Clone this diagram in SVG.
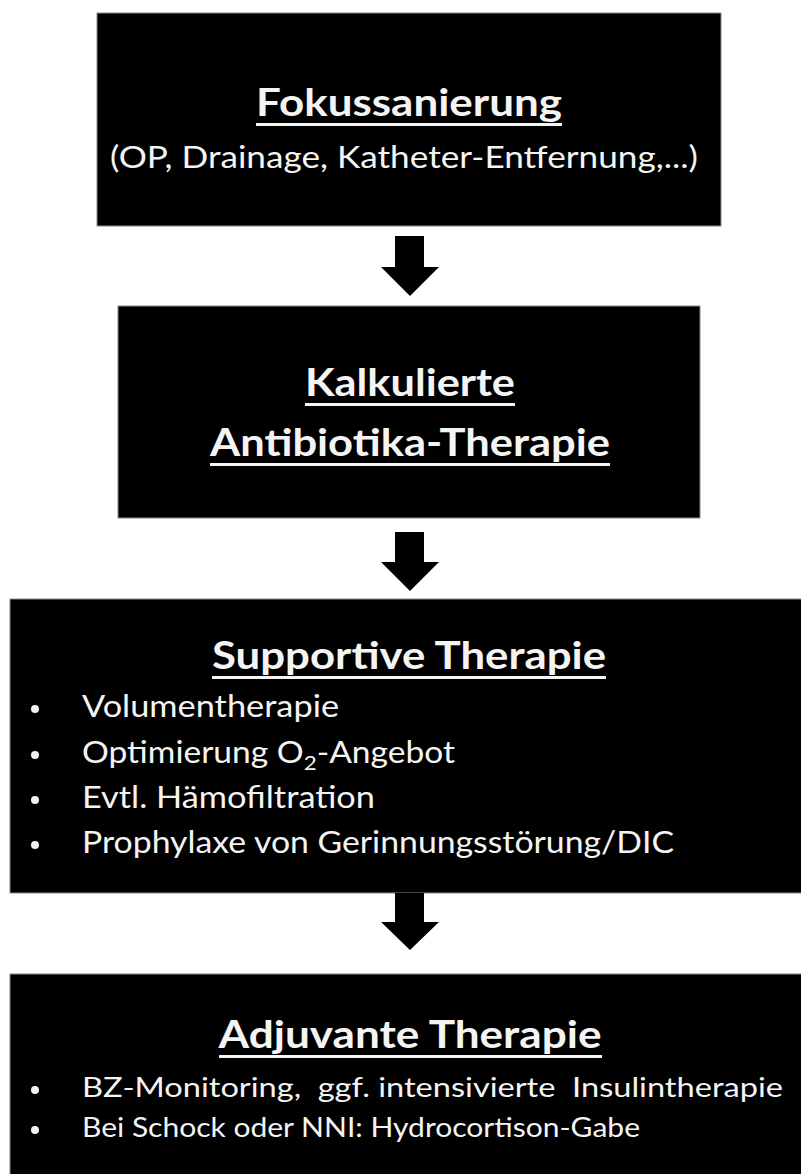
<svg xmlns="http://www.w3.org/2000/svg" width="801" height="1174" viewBox="0 0 801 1174">
<style>
.box{fill:#000;stroke:#8a8a8a;stroke-width:1}
.t{font-family:Lato,"Open Sans","Liberation Sans",sans-serif;fill:#f4f4f4}
.h{font-weight:bold;font-size:38px;text-anchor:middle}
.s{font-size:30px}
.b{font-size:30px}
.b2{font-size:26px}
.ul{fill:#f4f4f4}
.arr{fill:#000}
</style>
<rect width="801" height="1174" fill="#fff"/>
<g id="node-fokus">
<rect class="box" x="97" y="13" width="624" height="213"/>
<text class="t h" x="409" y="116" textLength="306" lengthAdjust="spacingAndGlyphs">Fokussanierung</text>
<rect class="ul" x="256" y="123" width="306" height="3"/>
<text class="t s" x="110" y="168" textLength="588" lengthAdjust="spacingAndGlyphs">(OP, Drainage, Katheter-Entfernung,...)</text>
</g>
<g id="node-antibiotika">
<rect class="box" x="118" y="306" width="582" height="212"/>
<text class="t h" x="410" y="396" textLength="210" lengthAdjust="spacingAndGlyphs">Kalkulierte</text>
<rect class="ul" x="305" y="403" width="210" height="3"/>
<text class="t h" x="410" y="456" textLength="400" lengthAdjust="spacingAndGlyphs">Antibiotika-Therapie</text>
<rect class="ul" x="210" y="463" width="400" height="3"/>
</g>
<g id="node-supportive">
<rect class="box" x="10" y="599" width="800" height="294"/>
<text class="t h" x="409" y="669" textLength="394" lengthAdjust="spacingAndGlyphs">Supportive Therapie</text>
<rect class="ul" x="212" y="676" width="394" height="3"/>
<g class="t b">
<circle cx="35" cy="709" r="4" fill="#f4f4f4"/>
<text x="82" y="717" textLength="257" lengthAdjust="spacingAndGlyphs">Volumentherapie</text>
<circle cx="35" cy="755" r="4" fill="#f4f4f4"/>
<text x="82" y="763" textLength="373" lengthAdjust="spacingAndGlyphs">Optimierung O<tspan font-size="20" dy="7">2</tspan><tspan dy="-7">-Angebot</tspan></text>
<circle cx="35" cy="800" r="4" fill="#f4f4f4"/>
<text x="82" y="808" textLength="293" lengthAdjust="spacingAndGlyphs">Evtl. Hämofiltration</text>
<circle cx="35" cy="845" r="4" fill="#f4f4f4"/>
<text x="82" y="853" textLength="592" lengthAdjust="spacingAndGlyphs">Prophylaxe von Gerinnungsstörung/DIC</text>
</g>
</g>
<g id="node-adjuvant">
<rect class="box" x="10" y="974" width="800" height="210"/>
<text class="t h" x="410" y="1048" textLength="383" lengthAdjust="spacingAndGlyphs">Adjuvante Therapie</text>
<rect class="ul" x="219" y="1055" width="383" height="3"/>
<g class="t b2">
<circle cx="35" cy="1090" r="4" fill="#f4f4f4"/>
<text x="82" y="1097" textLength="701" lengthAdjust="spacingAndGlyphs" xml:space="preserve">BZ-Monitoring,  ggf. intensivierte  Insulintherapie</text>
<circle cx="35" cy="1130" r="4" fill="#f4f4f4"/>
<text x="82" y="1137" textLength="558" lengthAdjust="spacingAndGlyphs">Bei Schock oder NNI: Hydrocortison-Gabe</text>
</g>
</g>
<g id="connectors">
<polygon class="arr" points="395,236 424,236 424,267 439,267 410,296 381,267 395,267"/>
<polygon class="arr" points="395,532 424,532 424,562 439,562 410,591 381,562 395,562"/>
<polygon class="arr" points="395,893 424,893 424,922 439,922 410,950 381,922 395,922"/>
</g>
</svg>
